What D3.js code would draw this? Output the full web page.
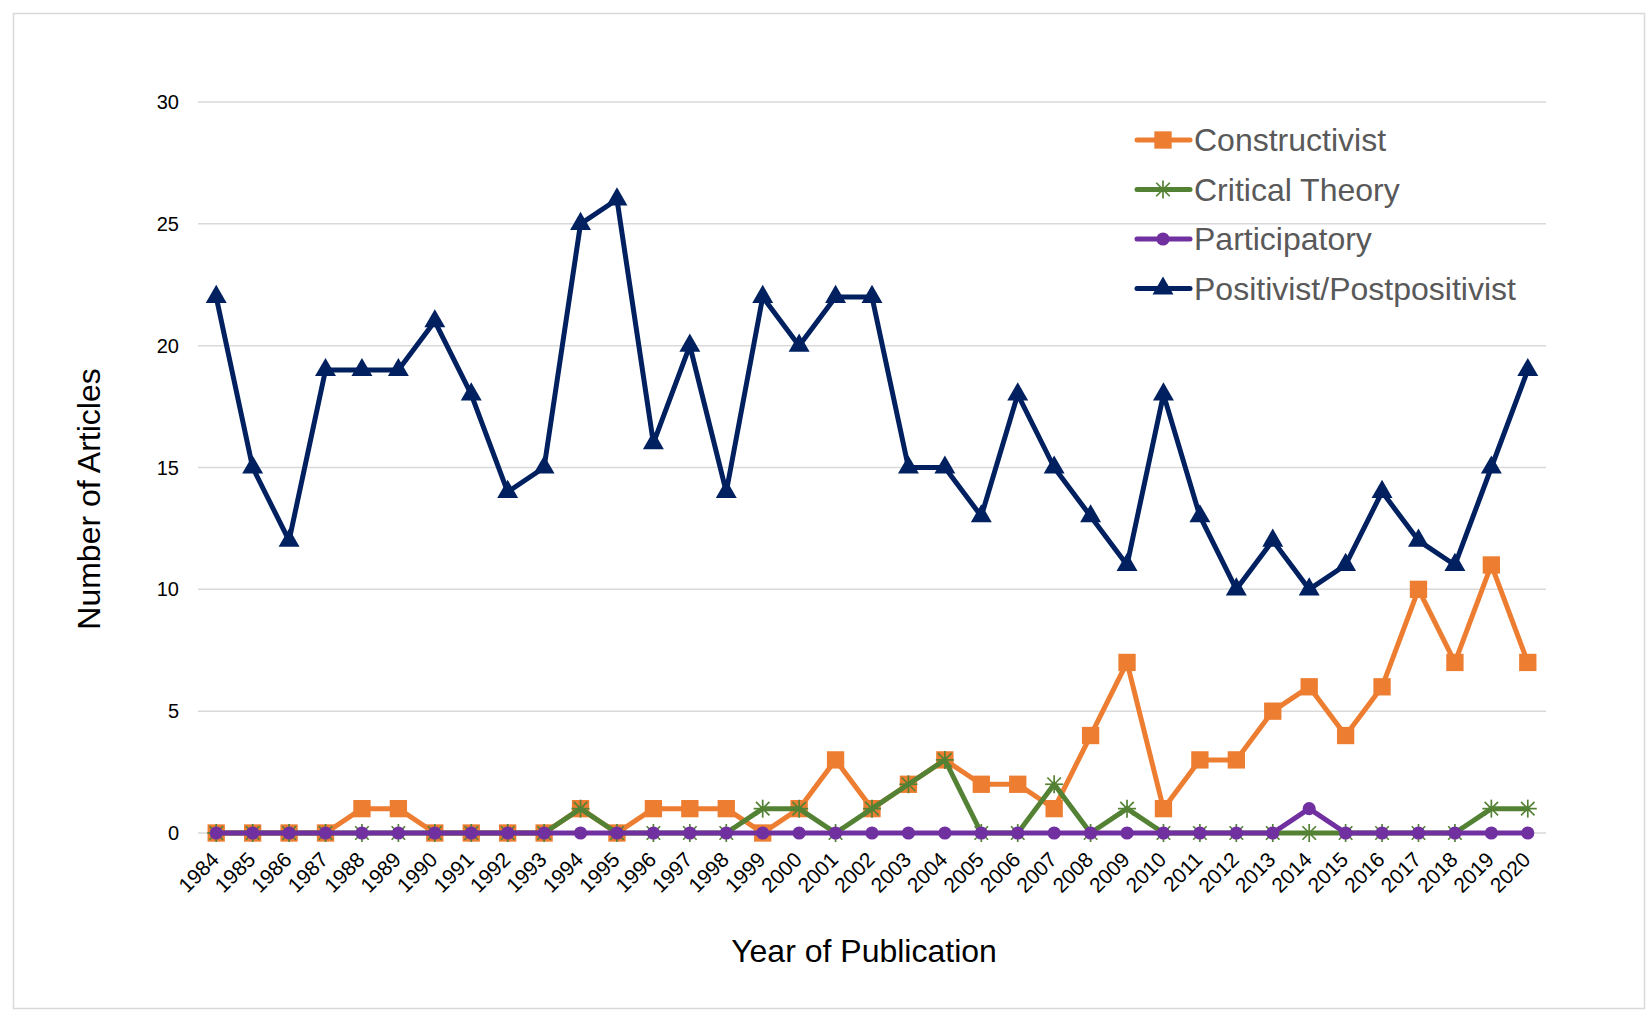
<!DOCTYPE html>
<html lang="en">

<head>
  <meta charset="UTF-8">
  <title>Number of Articles by Year of Publication</title>
  <script src="https://cdn.jsdelivr.net/npm/d3@7"></script>
  <style>
    body {
      margin: 0;
      background: white;
      font-family: "Liberation Sans", Arial, sans-serif;
    }
  </style>
</head>

<body>
  <div id="chart"></div>
  <script>
    const years = ['1984', '1985', '1986', '1987', '1988', '1989', '1990', '1991', '1992', '1993',
      '1994', '1995', '1996', '1997', '1998', '1999', '2000', '2001', '2002', '2003',
      '2004', '2005', '2006', '2007', '2008', '2009', '2010', '2011', '2012', '2013',
      '2014', '2015', '2016', '2017', '2018', '2019', '2020']

    const constructivist = [0, 0, 0, 0, 1, 1, 0, 0, 0, 0, 1, 0, 1, 1, 1, 0, 1, 3, 1, 2,
      3, 2, 2, 1, 4, 7, 1, 3, 3, 5, 6, 4, 6, 10, 7, 11, 7]
    const criticalTheory = [0, 0, 0, 0, 0, 0, 0, 0, 0, 0, 1, 0, 0, 0, 0, 1, 1, 0, 1, 2,
      3, 0, 0, 2, 0, 1, 0, 0, 0, 0, 0, 0, 0, 0, 0, 1, 1]
    const participatory = [0, 0, 0, 0, 0, 0, 0, 0, 0, 0, 0, 0, 0, 0, 0, 0, 0, 0, 0, 0,
      0, 0, 0, 0, 0, 0, 0, 0, 0, 0, 1, 0, 0, 0, 0, 0, 0]
    const positivist = [22, 15, 12, 19, 19, 19, 21, 18, 14, 15, 25, 26, 16, 20, 14, 22, 20, 22, 22, 15,
      15, 13, 18, 15, 13, 11, 18, 13, 10, 12, 10, 11, 14, 12, 11, 15, 19]

    const yTicks = [0, 5, 10, 15, 20, 25, 30]

    const series = [
      { name: 'Constructivist', values: constructivist, color: '#ED7D31', symbol: d3.symbolSquare, size: 300 },
      { name: 'Critical Theory', values: criticalTheory, color: '#548235', symbol: 'asterisk', size: 0 },
      { name: 'Participatory', values: participatory, color: '#7030A0', symbol: d3.symbolCircle, size: 135 },
      { name: 'Positivist/Postpositivist', values: positivist, color: '#002060', symbol: d3.symbolTriangle, size: 190 }
    ]

    const width = 1648
    const height = 1013

    const svg = d3.select('#chart')
      .append('svg')
      .attr('width', width)
      .attr('height', height)

    // chart frame
    svg.append('rect')
      .attr('x', 13.5)
      .attr('y', 13.5)
      .attr('width', 1631)
      .attr('height', 995)
      .attr('fill', 'white')
      .attr('stroke', '#d9d9d9')
      .attr('stroke-width', 1.5)

    const plotLeft = 198
    const plotRight = 1546

    const xScale = d3.scalePoint()
      .domain(years)
      .range([plotLeft, plotRight])
      .padding(0.5)

    const yScale = d3.scaleLinear()
      .domain([0, 30])
      .range([833, 102])

    // gridlines
    svg.append('g')
      .selectAll('line')
      .data(yTicks)
      .enter()
      .append('line')
      .attr('x1', plotLeft)
      .attr('x2', plotRight)
      .attr('y1', d => yScale(d))
      .attr('y2', d => yScale(d))
      .attr('stroke', '#d9d9d9')
      .attr('stroke-width', 1.5)

    // y labels
    svg.append('g')
      .selectAll('text')
      .data(yTicks)
      .enter()
      .append('text')
      .attr('x', 179)
      .attr('y', d => yScale(d))
      .attr('dy', '0.35em')
      .attr('text-anchor', 'end')
      .style('font-size', '20px')
      .attr('fill', '#000')
      .text(d => d)

    // x labels
    svg.append('g')
      .selectAll('text')
      .data(years)
      .enter()
      .append('text')
      .attr('text-anchor', 'end')
      .attr('transform', d => `translate(${xScale(d) + 4}, 861) rotate(-45)`)
      .style('font-size', '21px')
      .attr('fill', '#000')
      .text(d => d)

    const line = d3.line()
      .x((d, i) => xScale(years[i]))
      .y(d => yScale(d))

    const drawMarker = (g, s, x, y) => {
      if (s.symbol === 'asterisk') {
        const r = 9
        const a = g.append('g')
          .attr('transform', `translate(${x}, ${y})`)
          .attr('stroke', s.color)
          .attr('stroke-width', 1.7)
        a.append('line').attr('x1', -r).attr('x2', r).attr('y1', 0).attr('y2', 0)
        a.append('line').attr('x1', 0).attr('x2', 0).attr('y1', -r).attr('y2', r)
        a.append('line').attr('x1', -r * 0.75).attr('x2', r * 0.75).attr('y1', -r * 0.75).attr('y2', r * 0.75)
        a.append('line').attr('x1', -r * 0.75).attr('x2', r * 0.75).attr('y1', r * 0.75).attr('y2', -r * 0.75)
      } else {
        g.append('path')
          .attr('d', d3.symbol().type(s.symbol).size(s.size)())
          .attr('transform', `translate(${x}, ${y})`)
          .attr('fill', s.color)
      }
    }

    series.forEach(s => {
      const g = svg.append('g')
      g.append('path')
        .datum(s.values)
        .attr('d', line)
        .attr('fill', 'none')
        .attr('stroke', s.color)
        .attr('stroke-width', 5)
        .attr('stroke-linejoin', 'round')
        .attr('stroke-linecap', 'round')
      s.values.forEach((v, i) => drawMarker(g, s, xScale(years[i]), yScale(v)))
    })

    // legend
    const legend = svg.append('g')
    series.forEach((s, i) => {
      const y = 140 + i * 49.5
      legend.append('line')
        .attr('x1', 1137)
        .attr('x2', 1190)
        .attr('y1', y)
        .attr('y2', y)
        .attr('stroke', s.color)
        .attr('stroke-width', 5)
        .attr('stroke-linecap', 'round')
      drawMarker(legend, s, 1163, y)
      legend.append('text')
        .attr('x', 1194)
        .attr('y', y)
        .attr('dy', '0.35em')
        .style('font-size', '32px')
        .attr('fill', '#595959')
        .text(s.name)
    })

    // axis titles
    svg.append('text')
      .attr('x', 864)
      .attr('y', 962)
      .attr('text-anchor', 'middle')
      .style('font-size', '32px')
      .attr('fill', '#000')
      .text('Year of Publication')

    svg.append('text')
      .attr('transform', 'translate(100, 499) rotate(-90)')
      .attr('text-anchor', 'middle')
      .style('font-size', '32px')
      .attr('fill', '#000')
      .text('Number of Articles')
  </script>
</body>

</html>
